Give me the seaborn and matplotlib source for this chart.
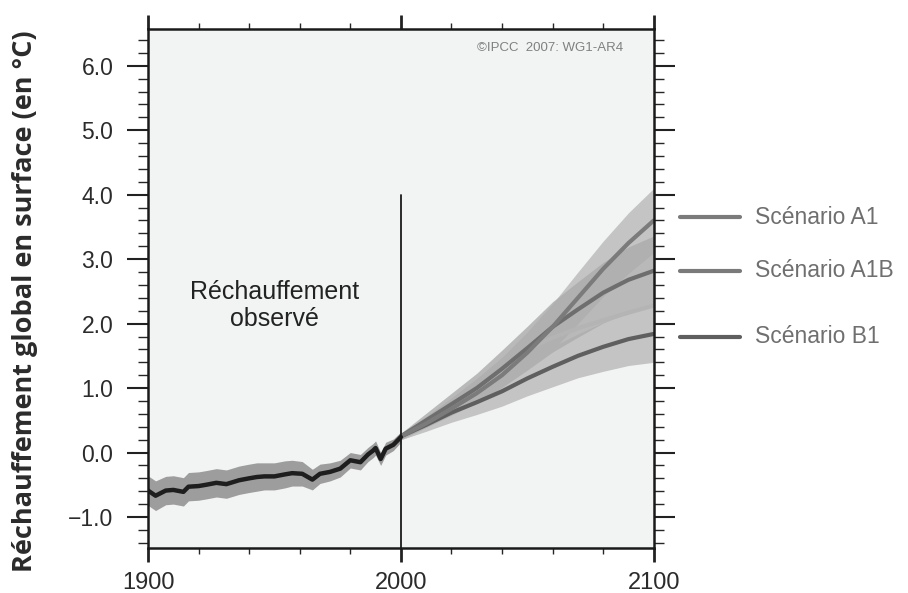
import matplotlib.pyplot as plt
import seaborn as sns
import pandas as pd

hist_years = [1900, 1903, 1907, 1910, 1914, 1916, 1920, 1923, 1927, 1931, 1936, 1940,
              1943, 1946, 1950, 1954, 1957, 1961, 1965, 1968, 1972, 1976, 1980, 1984,
              1987, 1989, 1990, 1992, 1994, 1997, 2000]
hist_temp = [-0.59, -0.67, -0.59, -0.58, -0.61, -0.53, -0.52, -0.50, -0.47, -0.49, -0.43, -0.40,
             -0.38, -0.37, -0.37, -0.34, -0.32, -0.33, -0.42, -0.33, -0.30, -0.25, -0.12, -0.15,
             -0.03, 0.03, 0.07, -0.10, 0.06, 0.12, 0.24]
hist_spread = [0.23, 0.23, 0.22, 0.22, 0.22, 0.22, 0.22, 0.22, 0.22, 0.22, 0.22, 0.22,
               0.22, 0.21, 0.21, 0.21, 0.20, 0.19, 0.16, 0.15, 0.14, 0.13, 0.12, 0.12,
               0.11, 0.11, 0.11, 0.10, 0.10, 0.09, 0.08]

# projections
proj_years = [2000, 2010, 2020, 2030, 2040, 2050, 2060, 2070, 2080, 2090, 2100]
a1_temp = [0.25, 0.45, 0.68, 0.92, 1.20, 1.55, 1.95, 2.40, 2.85, 3.25, 3.60]
a1b_temp = [0.25, 0.50, 0.75, 1.00, 1.30, 1.62, 1.95, 2.22, 2.48, 2.68, 2.82]
b1_temp = [0.25, 0.43, 0.62, 0.78, 0.95, 1.15, 1.33, 1.50, 1.64, 1.76, 1.84]
a1_spread = [0.05, 0.11, 0.17, 0.23, 0.28, 0.32, 0.36, 0.40, 0.43, 0.47, 0.50]
a1b_spread = [0.05, 0.11, 0.17, 0.23, 0.29, 0.34, 0.39, 0.43, 0.47, 0.51, 0.54]
b1_spread = [0.05, 0.10, 0.15, 0.19, 0.23, 0.27, 0.31, 0.34, 0.38, 0.41, 0.44]
extra_years = [2050, 2060, 2070, 2080, 2090, 2100]
extra_temp = [1.60, 1.78, 1.93, 2.05, 2.17, 2.28]

scenarios = ["Scénario A1", "Scénario A1B", "Scénario B1"]
scen_end = [3.65, 2.82, 1.80]

hist = pd.DataFrame({"year": hist_years, "temp": hist_temp, "spread": hist_spread})
proj = pd.DataFrame({"year": proj_years, "a1": a1_temp, "a1b": a1b_temp, "b1": b1_temp,
                     "a1s": a1_spread, "a1bs": a1b_spread, "b1s": b1_spread})
extra = pd.DataFrame({"year": extra_years, "temp": extra_temp})

sns.set_theme(style="ticks")
plt.rcParams["font.family"] = ["Liberation Sans", "DejaVu Sans"]

fig = plt.figure(figsize=(9.08, 5.93), dpi=100)
ax = fig.add_axes([0.163, 0.076, 0.557, 0.875])
ax.set_facecolor("#f2f3f3")

# bands
ax.fill_between(hist["year"], hist["temp"] - hist["spread"], hist["temp"] + hist["spread"],
                color="#9d9d9d", lw=0)
ax.fill_between(proj["year"], proj["a1"] - proj["a1s"], proj["a1"] + proj["a1s"],
                color="#c4c4c4", lw=0)
ax.fill_between(proj["year"], proj["b1"] - proj["b1s"], proj["b1"] + proj["b1s"],
                color="#c4c4c4", lw=0)
ax.fill_between(proj["year"], proj["a1b"] - proj["a1bs"], proj["a1b"] + proj["a1bs"],
                color="#ababab", lw=0, alpha=0.8)

# lines
sns.lineplot(data=extra, x="year", y="temp", ax=ax, color="#b4b4b4", lw=3)
sns.lineplot(data=proj, x="year", y="b1", ax=ax, color="#5f5f5f", lw=3)
sns.lineplot(data=proj, x="year", y="a1b", ax=ax, color="#6e6e6e", lw=3)
sns.lineplot(data=proj, x="year", y="a1", ax=ax, color="#7b7b7b", lw=3)
sns.lineplot(data=hist, x="year", y="temp", ax=ax, color="#1e1e1e", lw=3.2)

ax.plot([2000, 2000], [-1.5, 4.0], color="#1a1a1a", lw=1.3)

ax.set_xlim(1900, 2100)
ax.set_ylim(-1.48, 6.57)
ax.set_xticks([1900, 2000, 2100])
ax.set_xticks(range(1900, 2101, 20), minor=True)
ax.set_yticks([-1, 0, 1, 2, 3, 4, 5, 6])
ax.set_yticks([v / 10 for v in range(-14, 66, 2)], minor=True)
ax.set_yticklabels(["\u22121.0", "0.0", "1.0", "2.0", "3.0", "4.0", "5.0", "6.0"])
ax.tick_params(axis="both", labelcolor="#2b2b2b", color="#222222",
               top=True, right=True, direction="out")
ax.tick_params(axis="y", which="major", length=15, width=1.5, pad=10, labelsize=16.5)
ax.tick_params(axis="y", which="minor", length=7, width=1.0, right=True, left=True)
ax.tick_params(axis="x", which="major", length=10, width=2, pad=7, labelsize=17)
ax.tick_params(axis="x", which="minor", length=4.5, width=1.0, top=True, bottom=True)
for s in ax.spines.values():
    s.set_linewidth(1.8)
    s.set_color("#1a1a1a")
ax.set_xlabel("")
ax.set_ylabel("")
fig.text(0.028, 0.492, "Réchauffement global en surface (en °C)", rotation=90,
         ha="center", va="center", fontsize=19.5, fontweight="bold",
         family=["Open Sans", "DejaVu Sans"], color="#2b2b2b")

ax.text(1950, 2.28, "Réchauffement\nobservé", ha="center", va="center", fontsize=18,
        color="#222222", linespacing=1.15)
ax.text(0.94, 0.975, "©IPCC  2007: WG1-AR4", transform=ax.transAxes, ha="right",
        va="top", fontsize=9.5, color="#808080")

# right-hand legend
legend_colors = ["#7b7b7b", "#7a7a7a", "#5f5f5f"]
for name, yv, col in zip(scenarios, scen_end, legend_colors):
    ax.plot([2110.3, 2134], [yv, yv], color=col, lw=3, clip_on=False)
    ax.text(2140, yv, name, ha="left", va="center", fontsize=16.5, color="#6f6f6f",
            clip_on=False)

plt.savefig("out.png", dpi=100)
